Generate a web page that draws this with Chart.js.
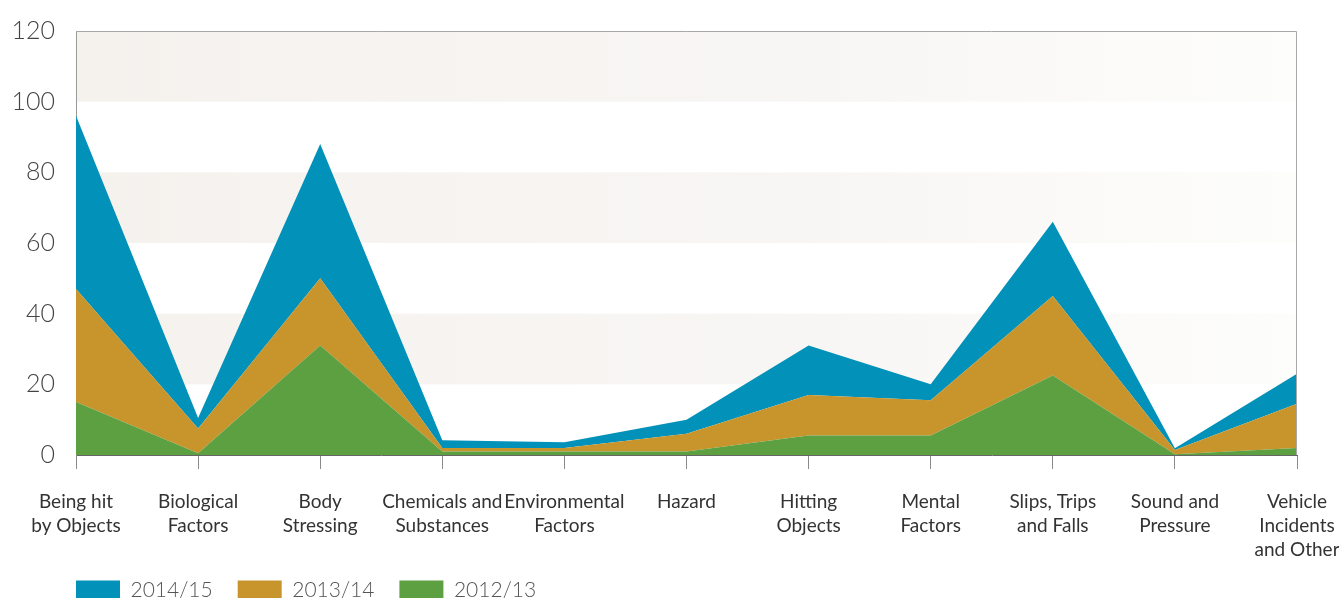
<!DOCTYPE html>
<html lang="en">

<head>
    <meta charset="UTF-8">
    <meta name="viewport" content="width=device-width, initial-scale=1.0">
    <title>Injuries by Mechanism</title>
    <script src="https://cdn.jsdelivr.net/npm/chart.js"></script>
    <style>
        html, body { margin: 0; padding: 0; background: #fff; overflow: hidden; }
    </style>
</head>

<body>
    <canvas id="mechChart" width="1339" height="611"></canvas>
    <script>
        const categories = [
            ["Being hit", "by Objects"], ["Biological", "Factors"], ["Body", "Stressing"],
            ["Chemicals and", "Substances"], ["Environmental", "Factors"], "Hazard",
            ["Hitting", "Objects"], ["Mental", "Factors"], ["Slips, Trips", "and Falls"],
            ["Sound and", "Pressure"], ["Vehicle", "Incidents", "and Other"]
        ];
        const values1213 = [15, 0.5, 31, 1, 1, 1, 5.5, 5.5, 22.5, 0.2, 2];
        const values1314 = [32, 7, 19, 1, 1, 5, 11.5, 10, 22.5, 1.2, 12.5];
        const values1415 = [49, 3, 38, 2.2, 1.6, 4, 14, 4.5, 21, 0.5, 8.5];
        const yTicks = [0, 20, 40, 60, 80, 100, 120];

        const fontFamily = "Lato, 'DejaVu Sans', sans-serif";
        const legendRowTop = 580;

        // alternating shaded bands behind the plot, plus top/right frame
        const bandPlugin = {
            id: "bands",
            afterLayout(chart) {
                // line the legend up with the left edge of the plot
                const lg = chart.legend;
                if (!lg) return;
                const pad = lg.options.labels.padding;
                lg.left = chart.chartArea.left - pad;
                lg.top = legendRowTop - pad;
            },
            beforeDraw(chart) {
                const { ctx, chartArea: a, scales: { y } } = chart;
                const grad = ctx.createLinearGradient(a.left, 0, a.right, 0);
                grad.addColorStop(0, "#f5f2ee");
                grad.addColorStop(0.6, "#f8f6f4");
                grad.addColorStop(1, "#fdfdfc");
                ctx.save();
                ctx.fillStyle = grad;
                for (let i = 1; i < yTicks.length; i += 2) {
                    const top = y.getPixelForValue(yTicks[i + 1] ?? yTicks[i]);
                    const bottom = y.getPixelForValue(yTicks[i]);
                    ctx.fillRect(a.left, top, a.right - a.left, bottom - top);
                }
                ctx.restore();
            },
            afterDraw(chart) {
                const { ctx, chartArea: a } = chart;
                ctx.save();
                ctx.strokeStyle = "#a8a8a8";
                ctx.lineWidth = 1;
                ctx.beginPath();
                ctx.moveTo(a.left, a.top + 0.5);
                ctx.lineTo(a.right - 0.5, a.top + 0.5);
                ctx.lineTo(a.right - 0.5, a.bottom);
                ctx.stroke();
                ctx.restore();
            }
        };

        const area = (label, data, color, fill) => ({
            label, data, fill,
            backgroundColor: color,
            borderColor: color,
            borderWidth: 0,
            pointRadius: 0,
            pointHoverRadius: 0,
            tension: 0
        });

        new Chart(document.getElementById("mechChart"), {
            type: "line",
            data: {
                labels: categories,
                datasets: [
                    area("2012/13", values1213, "#5ca042", "origin"),
                    area("2013/14", values1314, "#c8952d", "-1"),
                    area("2014/15", values1415, "#0291b8", "-1")
                ]
            },
            plugins: [bandPlugin],
            options: {
                responsive: false,
                animation: false,
                layout: { padding: { left: 0, right: 42, top: 31, bottom: 0 } },
                plugins: {
                    tooltip: { enabled: false },
                    legend: {
                        position: "bottom",
                        align: "start",
                        reverse: true,
                        maxHeight: 41,
                        labels: {
                            boxWidth: 44,
                            boxHeight: 20,
                            padding: 25,
                            color: "#555",
                            font: { family: fontFamily, size: 21, weight: "300" }
                        }
                    }
                },
                scales: {
                    x: {
                        stacked: true,
                        offset: false,
                        grid: { drawOnChartArea: false, drawTicks: true, tickLength: 14, color: "#8a8a8a" },
                        border: { display: true, color: "#666", width: 1 },
                        ticks: {
                            autoSkip: false,
                            maxRotation: 0,
                            padding: 21,
                            color: "#333",
                            font: { family: fontFamily, size: 19, lineHeight: 1.26 }
                        },
                        afterFit(scale) {
                            scale.height = 115;
                            scale.paddingLeft = 0;
                            scale.paddingRight = 0;
                        }
                    },
                    y: {
                        stacked: true,
                        min: 0,
                        max: 120,
                        grid: { display: false, drawTicks: false },
                        border: { display: true, color: "#999", width: 1 },
                        ticks: {
                            stepSize: 20,
                            padding: 21,
                            color: "#444",
                            font: { family: fontFamily, size: 25, weight: "300" }
                        },
                        afterFit(scale) {
                            scale.width = 76;
                            scale.paddingTop = 0;
                            scale.paddingBottom = 0;
                        }
                    }
                }
            }
        });
    </script>
</body>

</html>
